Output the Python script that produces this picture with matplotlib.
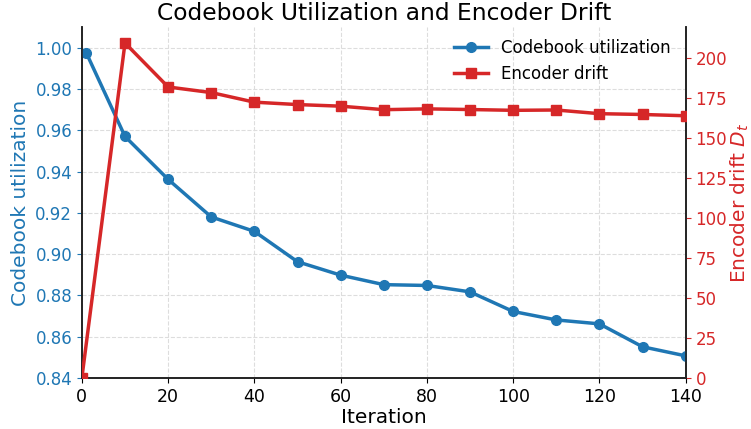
import matplotlib
matplotlib.use("Agg")
import matplotlib.pyplot as plt

util_iter = [1, 10, 20, 30, 40, 50, 60, 70, 80, 90, 100, 110, 120, 130, 140]
util_vals = [0.9976, 0.957, 0.9362, 0.9180, 0.9110, 0.8963, 0.8898, 0.8852,
             0.8848, 0.8817, 0.8722, 0.8681, 0.8662, 0.8551, 0.8507]
drift_iter = [0, 10, 20, 30, 40, 50, 60, 70, 80, 90, 100, 110, 120, 130, 140]
drift_vals = [0.0, 209.5, 182.0, 178.5, 172.5, 171.0, 170.0, 167.8,
              168.3, 167.9, 167.4, 167.6, 165.3, 164.8, 164.0]

blue = "#1f77b4"
red = "#d62728"

fig = plt.figure(figsize=(7.51, 4.29), dpi=100)
ax = fig.add_axes([0.109, 0.119, 0.804, 0.818])
ax2 = ax.twinx()

l1, = ax.plot(util_iter, util_vals, color=blue, marker="o", lw=2.5, ms=7,
              label="Codebook utilization", zorder=3)
l2, = ax2.plot(drift_iter, drift_vals, color=red, marker="s", lw=2.5, ms=7,
               label="Encoder drift", zorder=3)

ax.set_xlim(0, 140)
ax.set_ylim(0.84, 1.01)
ax2.set_ylim(0, 219.5)
ax.set_xticks(range(0, 141, 20))
ax.set_yticks([0.84, 0.86, 0.88, 0.90, 0.92, 0.94, 0.96, 0.98, 1.00])
ax2.set_yticks(range(0, 201, 25))

ax.grid(True, linestyle="--", color="#dddddd", linewidth=0.8)
ax.set_axisbelow(True)

ax.set_xlabel("Iteration", fontsize=14.5, labelpad=2)
ax.set_ylabel("Codebook utilization", fontsize=14.5, color=blue)
ax2.set_ylabel("Encoder drift $D_t$", fontsize=14.5, color=red, labelpad=1)
ax.set_title("Codebook Utilization and Encoder Drift", fontsize=16.8, pad=5)

ax.tick_params(axis="y", colors=blue, labelsize=12)
ax.tick_params(axis="x", labelsize=12.5)
ax2.tick_params(axis="y", colors=red, labelsize=12)
for a in (ax, ax2):
    a.spines["top"].set_visible(False)
    for s in ("left", "right", "bottom"):
        a.spines[s].set_color("#222222")
        a.spines[s].set_linewidth(1.2)
for t in ax.get_yticklines():
    t.set_color("#222222")
for t in ax2.get_yticklines():
    t.set_color("#222222")

ax.legend([l1, l2], ["Codebook utilization", "Encoder drift"], loc="upper right",
          frameon=False, fontsize=12, bbox_to_anchor=(1.0, 1.01))

fig.savefig("out.png", dpi=100)
